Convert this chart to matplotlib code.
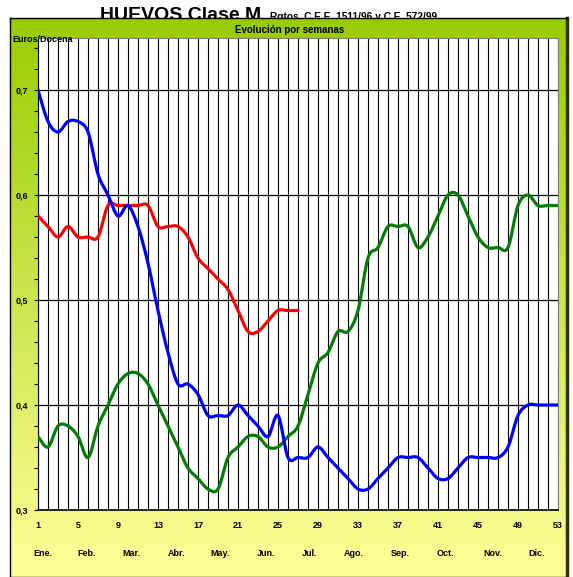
import numpy as np
import matplotlib
matplotlib.use('Agg')
import matplotlib.pyplot as plt
from matplotlib.colors import LinearSegmentedColormap
from matplotlib.path import Path
from matplotlib.patches import PathPatch

plt.rcParams['font.family'] = ['Liberation Sans', 'DejaVu Sans']

# Precio semanal (euros/docena)
semanas = list(range(1, 54))
serie_azul = [0.70, 0.67, 0.66, 0.67, 0.67, 0.66, 0.62, 0.60, 0.58, 0.59,
              0.57, 0.535, 0.49, 0.45, 0.42, 0.42, 0.41, 0.39, 0.39, 0.39,
              0.40, 0.39, 0.38, 0.37, 0.39, 0.35, 0.35, 0.35, 0.36, 0.35,
              0.34, 0.33, 0.32, 0.32, 0.33, 0.34, 0.35, 0.35, 0.35, 0.34,
              0.33, 0.33, 0.34, 0.35, 0.35, 0.35, 0.35, 0.36, 0.39, 0.40,
              0.40, 0.40, 0.40]
serie_roja = [0.58, 0.57, 0.56, 0.57, 0.56, 0.56, 0.56, 0.59, 0.59, 0.59,
              0.59, 0.59, 0.57, 0.57, 0.57, 0.56, 0.54, 0.53, 0.52, 0.51,
              0.49, 0.47, 0.47, 0.48, 0.49, 0.49, 0.49]
serie_verde = [0.37, 0.36, 0.38, 0.38, 0.37, 0.35, 0.38, 0.40, 0.42, 0.43,
               0.43, 0.42, 0.40, 0.38, 0.36, 0.34, 0.33, 0.32, 0.32, 0.35,
               0.36, 0.37, 0.37, 0.36, 0.36, 0.37, 0.38, 0.41, 0.44, 0.45,
               0.47, 0.47, 0.49, 0.54, 0.55, 0.57, 0.57, 0.57, 0.55, 0.56,
               0.58, 0.60, 0.60, 0.58, 0.56, 0.55, 0.55, 0.55, 0.59, 0.60,
               0.59, 0.59, 0.59]
meses = ['Ene.', 'Feb.', 'Mar.', 'Abr.', 'May.', 'Jun.',
         'Jul.', 'Ago.', 'Sep.', 'Oct.', 'Nov.', 'Dic.']
semana_ticks = list(range(1, 54, 4))
y_ticks = [0.3, 0.4, 0.5, 0.6, 0.7]
y_labels = ['0,3', '0,4', '0,5', '0,6', '0,7']

W, H = 573, 577


def fx(px):
    return px / W


def fy(py):
    return 1 - py / H


def smooth_path(x, y):
    # curva suavizada tipo Excel (Bezier a partir de Catmull-Rom)
    n = len(x)
    verts = [(x[0], y[0])]
    codes = [Path.MOVETO]
    for i in range(n - 1):
        a = i - 1 if i > 0 else i
        d = i + 2 if i + 2 < n else i + 1
        c1 = (x[i] + (x[i + 1] - x[a]) / 6, y[i] + (y[i + 1] - y[a]) / 6)
        c2 = (x[i + 1] - (x[d] - x[i]) / 6, y[i + 1] - (y[d] - y[i]) / 6)
        verts += [c1, c2, (x[i + 1], y[i + 1])]
        codes += [Path.CURVE4] * 3
    return Path(verts, codes)


fig = plt.figure(figsize=(5.73, 5.77), dpi=100)

# fondo degradado verde -> amarillo
panel = fig.add_axes([fx(10), 0, fx(567) - fx(10), fy(18)])
cmap = LinearSegmentedColormap.from_list('fondo', ['#99CC00', '#FFFF99'])
panel.imshow(np.linspace(0, 1, 256).reshape(-1, 1), cmap=cmap, aspect='auto',
             extent=[0, 1, 0, 1])
panel.set_xticks([])
panel.set_yticks([])
for s in ['top', 'left', 'bottom']:
    panel.spines[s].set_color('black')
    panel.spines[s].set_linewidth(1)
panel.spines['right'].set_color('#333300')
panel.spines['right'].set_linewidth(2.5)

ax = fig.add_axes([fx(38), fy(510), fx(558) - fx(38), fy(37.5) - fy(510)])
ax.set_facecolor('white')
ax.set_xlim(1, 53)
ax.set_ylim(0.3, 0.75)

ax.set_xticks(semana_ticks)
ax.set_xticklabels([str(s) for s in semana_ticks])
ax.set_xticks(semanas, minor=True)
ax.set_yticks(y_ticks)
ax.set_yticklabels(y_labels)
ax.set_yticks(np.arange(0.30, 0.75, 0.02), minor=True)
ax.tick_params(axis='x', which='both', length=0, pad=8)
ax.tick_params(axis='y', which='both', direction='out', length=3, width=0.8, pad=4)
for lab in ax.get_xticklabels() + ax.get_yticklabels():
    lab.set_fontsize(6.5)
    lab.set_fontweight('bold')

ax.grid(axis='x', which='both', color='black', linewidth=0.8)
ax.grid(axis='y', which='major', color='black', linewidth=0.9)
ax.set_axisbelow(True)
ax.spines['left'].set_color('black')
ax.spines['bottom'].set_color('black')
ax.spines['bottom'].set_linewidth(1.2)
ax.spines['top'].set_color('#808080')
ax.spines['right'].set_color('#808080')

for serie, color in [(serie_verde, '#008000'), (serie_roja, '#FF0000'),
                     (serie_azul, '#0000FF')]:
    xs = semanas[:len(serie)]
    ax.add_patch(PathPatch(smooth_path(xs, serie), facecolor='none',
                           edgecolor=color, linewidth=2.3,
                           capstyle='round', joinstyle='round', zorder=3))

pos_meses = [1.5, 5.9, 10.3, 14.9, 19.2, 23.8, 28.2, 32.6, 37.2, 41.7, 46.5, 50.9]
for m, p in zip(meses, pos_meses):
    ax.text(p, -44 / 472.5, m, transform=ax.get_xaxis_transform(),
            ha='center', va='center', fontsize=6.5, fontweight='bold')

fig.text(fx(100), fy(20), 'HUEVOS Clase M', ha='left', va='baseline',
         fontsize=14, fontweight='bold', zorder=-1)
fig.text(fx(270), fy(20), 'Rgtos. C.E.E. 1511/96 y C.E. 572/99', ha='left',
         va='baseline', fontsize=7.3, fontweight='bold', zorder=-1)
fig.text(fx(290), fy(30), 'Evolución por semanas', ha='center', va='center',
         fontsize=7, fontweight='bold')
fig.text(fx(12), fy(40), 'Euros/Docena', ha='left', va='center',
         fontsize=6.5, fontweight='bold')

fig.savefig('out.png', dpi=100)
